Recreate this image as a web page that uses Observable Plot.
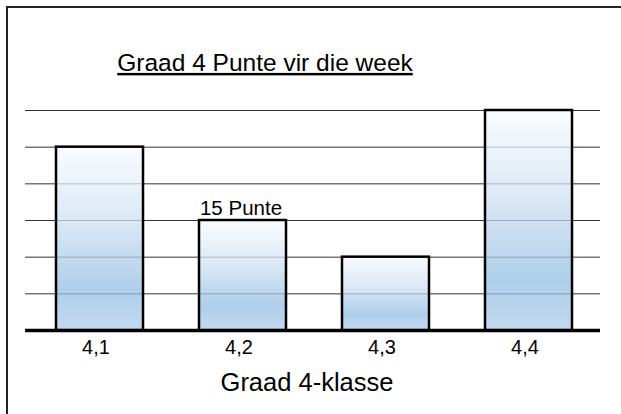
<!DOCTYPE html>
<html><head><meta charset="utf-8">
<script src="https://cdn.jsdelivr.net/npm/d3@7"></script>
<script src="https://cdn.jsdelivr.net/npm/@observablehq/plot@0.6"></script>
<style>
body{margin:0;background:#fff;}
#wrap{position:relative;width:621px;height:414px;overflow:hidden;background:#fff;}
#frame{position:absolute;left:6px;top:6px;width:700px;height:500px;border-left:2px solid #222;border-top:2px solid #222;pointer-events:none;}
#wrap svg{position:absolute;left:0;top:0;}
</style></head><body><div id="wrap"><div id="frame"></div></div>
<script>
const categories = ["4,1", "4,2", "4,3", "4,4"];
const values = [25, 15, 10, 30];
const barLabels = ["", "15 Punte", "", ""];
const gridTicks = [5, 10, 15, 20, 25, 30];
const chartTitle = "Graad 4 Punte vir die week";
const xTitle = "Graad 4-klasse";

const data = categories.map((c, i) => ({cat: c, value: values[i], label: barLabels[i]}));
const FONT = "'Liberation Sans', Arial, sans-serif";

const svg = Plot.plot({
  width: 621,
  height: 414,
  marginLeft: 25,
  marginRight: 21,
  marginTop: 110,
  marginBottom: 84,
  style: {fontFamily: FONT, fontSize: "19px", background: "transparent", color: "#000"},
  x: {domain: categories, paddingInner: 0.39, paddingOuter: 0.195, label: null},
  y: {domain: [0, 30], axis: null},
  marks: [
    Plot.ruleY(gridTicks, {stroke: "#333", strokeWidth: 1}),
    Plot.ruleY([0], {stroke: "#000", strokeWidth: 3.5}),
    Plot.barY(data, {x: "cat", y: "value", fill: "url(#barGrad)", fillOpacity: 0.75, stroke: "#000", strokeWidth: 2.5, dx: 2}),
    Plot.text(data.filter(d => d.label), {x: "cat", y: "value", text: "label", lineAnchor: "bottom", dy: -6, fontSize: 20.5, fill: "#000"}),
    Plot.axisX({tickSize: 0, tickPadding: 9, fontSize: 20, dx: -2, label: null}),
    Plot.text([xTitle], {frameAnchor: "bottom", lineAnchor: "top", dy: 42, dx: -6, fontSize: 25.5, fill: "#000"}),
    Plot.text([chartTitle], {frameAnchor: "top", lineAnchor: "top", dy: -57, dx: -48, fontSize: 24.5, fill: "#000"})
  ]
});

const s = d3.select(svg);
const defs = s.insert("defs", ":first-child");
const g = defs.append("linearGradient").attr("id", "barGrad").attr("x1", 0).attr("y1", 0).attr("x2", 0).attr("y2", 1);
[["0%", "#f8fbfe"], ["40%", "#d0e1f2"], ["78%", "#94bee3"], ["100%", "#aecdea"]].forEach(([o, c]) =>
  g.append("stop").attr("offset", o).attr("stop-color", c));
s.selectAll("text").filter(function() { return this.textContent === chartTitle; })
  .style("text-decoration", "underline");
document.getElementById("wrap").appendChild(svg);
</script>
</body></html>
